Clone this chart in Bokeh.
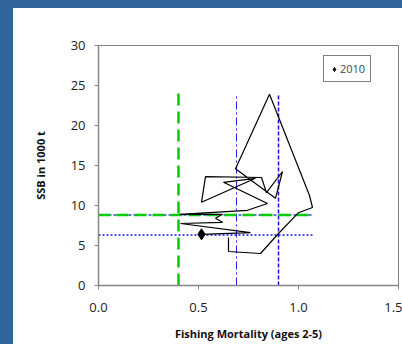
from bokeh.plotting import figure
from bokeh.layouts import column, row
from bokeh.models import (Legend, LegendItem, FixedTicker, Range1d, NumeralTickFormatter, Spacer,
                          GlobalInlineStyleSheet, InlineStyleSheet)
from bokeh.embed import file_html
from bokeh.resources import INLINE

# ---- data ----
years = list(range(1985, 2011))
fishing_mortality = [0.65, 0.65, 0.81, 0.90, 1.00, 1.07, 1.055, 0.855, 0.685, 0.885,
                     0.92, 0.84, 0.815, 0.535, 0.515, 0.785, 0.625, 0.845, 0.745, 0.405,
                     0.62, 0.585, 0.62, 0.41, 0.76, 0.515]
ssb = [6.0, 4.25, 4.0, 6.5, 9.1, 9.75, 11.25, 23.9, 14.6, 10.9,
       14.25, 11.6, 13.5, 13.6, 10.4, 13.4, 12.9, 10.25, 9.4, 8.9,
       8.9, 8.4, 7.9, 7.75, 6.6, 6.4]
last_year_label = ["2010"]

x_ticks = [0.0, 0.5, 1.0, 1.5]
y_ticks = [0, 5, 10, 15, 20, 25, 30]
x_title = "Fishing Mortality (ages 2-5)"
y_title = "SSB in 1000 t"

f_green = 0.4
f_dashdot = 0.69
f_blue = 0.90
b_green = 8.8
b_blue = 6.3
ref_top = 24
ref_right = 1.075

FONT = "Open Sans"
BLUE_BG = "#31659A"

p = figure(frame_width=300, frame_height=240, output_backend="svg", toolbar_location=None,
           x_range=Range1d(0, 1.5), y_range=Range1d(0, 30),
           min_border_left=85, min_border_right=4, min_border_top=37, min_border_bottom=59,
           background_fill_color="white", border_fill_color="white")
p.stylesheets = [InlineStyleSheet(css=":host, :host * { overflow: hidden !important; }")]

p.xgrid.visible = False
p.ygrid.visible = False
p.outline_line_color = "#7f7f7f"
p.outline_line_width = 1

for ax in (p.xaxis, p.yaxis):
    ax.axis_line_color = "#868686"
    ax.axis_line_width = 1.5
    ax.major_tick_line_color = "#868686"
    ax.major_tick_in = 0
    ax.major_tick_out = 4
    ax.minor_tick_line_color = None
    ax.major_label_text_font = FONT
    ax.major_label_text_font_size = "13px"
    ax.major_label_text_color = "#222222"
    ax.axis_label_text_font = FONT
    ax.axis_label_text_font_size = "11px"
    ax.axis_label_text_font_style = "bold"
    ax.axis_label_text_color = "#111111"

p.xaxis.ticker = FixedTicker(ticks=x_ticks)
p.xaxis.formatter = NumeralTickFormatter(format="0.0")
p.yaxis.ticker = FixedTicker(ticks=y_ticks)
p.xaxis.axis_label = x_title
p.yaxis.axis_label = y_title
p.xaxis.major_label_standoff = 13
p.xaxis.axis_label_standoff = 11
p.yaxis.major_label_standoff = 9
p.yaxis.axis_label_standoff = 20

# reference lines
p.line([f_green, f_green], [0, ref_top], line_color="#00CC00", line_width=2.5, line_dash="12 6")
p.line([f_dashdot, f_dashdot], [0, ref_top], line_color="#2020F0", line_width=1, line_dash="8 3 2 3")
p.line([f_blue, f_blue], [0, ref_top], line_color="#1010EE", line_width=1.5, line_dash="4 2")
p.line([0, ref_right], [b_green, b_green], line_color="#3344EE", line_width=1.5, line_dash="3 2")
p.line([0, ref_right], [b_green, b_green], line_color="#00CC00", line_width=2.5, line_dash="12 6")
p.line([0, ref_right], [b_blue, b_blue], line_color="#1010EE", line_width=1.5, line_dash="2 2")

# trajectory
p.line(fishing_mortality, ssb, line_color="black", line_width=1.2)
last = p.scatter([fishing_mortality[-1]], [ssb[-1]], marker="diamond", size=11,
                 fill_color="black", line_color="black")

legend = Legend(items=[LegendItem(label=last_year_label[0], renderers=[last])],
                location=(225, 203), orientation="vertical")
legend.border_line_color = "black"
legend.border_line_width = 1
legend.background_fill_color = "white"
legend.background_fill_alpha = 1
legend.label_text_font = FONT
legend.label_text_font_size = "11px"
legend.glyph_width = 10
legend.glyph_height = 14
legend.label_standoff = 1
legend.padding = 5
legend.spacing = 0
legend.margin = 0
legend.label_height = 14
p.add_layout(legend, "center")

layout = column(Spacer(width=402, height=8, styles={"background-color": BLUE_BG}),
                row(Spacer(width=13, height=336, styles={"background-color": BLUE_BG}), p),
                styles={"background-color": "white"})
layout.stylesheets = [GlobalInlineStyleSheet(css="html, body { overflow: hidden; margin: 0; }")]
open("out.html", "w").write(file_html(layout, INLINE))
